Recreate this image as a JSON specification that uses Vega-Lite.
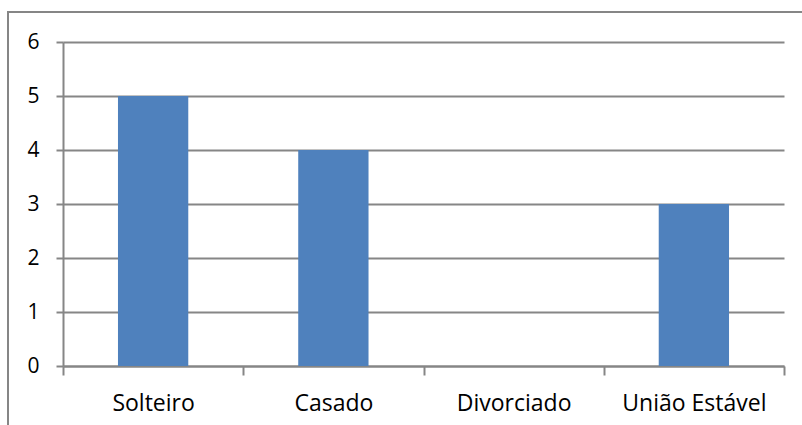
{
  "$schema": "https://vega.github.io/schema/vega-lite/v6.json",
  "width": 800,
  "height": 420,
  "autosize": {"type": "none"},
  "padding": {"left": 8, "top": 12, "right": 0, "bottom": 0},
  "background": "white",
  "config": {
    "view": {"stroke": "#868686", "strokeWidth": 2},
    "axis": {
      "labelFont": "Open Sans",
      "labelColor": "#000000",
      "domainColor": "#868686",
      "domainWidth": 2,
      "tickColor": "#868686",
      "tickWidth": 2,
      "gridColor": "#868686",
      "gridWidth": 2,
      "title": null
    }
  },
  "data": {
    "values": [
      {"estado_civil": "Solteiro", "quantidade": 5},
      {"estado_civil": "Casado", "quantidade": 4},
      {"estado_civil": "Divorciado", "quantidade": 0},
      {"estado_civil": "União Estável", "quantidade": 3}
    ]
  },
  "mark": {"type": "bar", "color": "#4F81BD", "width": {"band": 0.39}},
  "encoding": {
    "x": {
      "field": "estado_civil",
      "type": "nominal",
      "sort": null,
      "scale": {"range": [55, 776], "paddingInner": 0, "paddingOuter": 0},
      "axis": {
        "offset": -66,
        "labelAngle": 0,
        "labelFontSize": 23,
        "labelBaseline": "alphabetic",
        "labelPadding": 35,
        "tickSize": 9,
        "tickBand": "extent",
        "grid": false
      }
    },
    "y": {
      "field": "quantidade",
      "type": "quantitative",
      "scale": {"domain": [0, 6], "range": [354, 30], "nice": false, "zero": true},
      "axis": {
        "offset": -55,
        "values": [0, 1, 2, 3, 4, 5, 6],
        "labelFontSize": 21,
        "labelPadding": 17,
        "tickSize": 7,
        "grid": true
      }
    }
  }
}
